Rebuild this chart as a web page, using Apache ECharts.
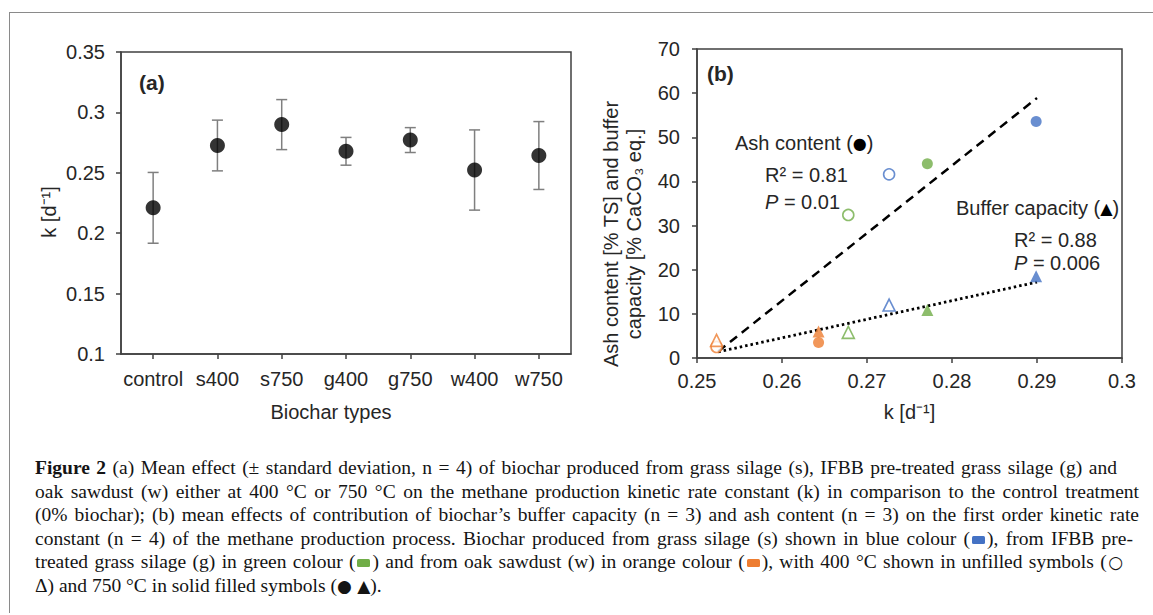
<!DOCTYPE html>
<html><head><meta charset="utf-8">
<script src="https://cdn.jsdelivr.net/npm/echarts@6/dist/echarts.min.js"></script>
<style>
html,body{margin:0;padding:0;background:#fff;overflow:hidden;width:1153px;height:615px;}
#chart{position:absolute;left:0;top:0;width:1153px;height:615px;}
#frame{position:absolute;left:9px;top:12px;width:1300px;height:600px;border-top:1.5px solid #8a8a8a;border-left:1.5px solid #8a8a8a;pointer-events:none;}
#caption{position:absolute;left:35px;top:456px;font-family:"Liberation Serif","Times New Roman",serif;font-size:19.5px;line-height:23.6px;color:#141414;}
.ln{text-align:justify;text-align-last:justify;height:23.6px;overflow:visible;}
.ln.last{text-align:left;text-align-last:left;}
.sq{display:inline-block;width:13px;height:8px;border-radius:1.5px;vertical-align:1px;margin:0 2px;}
.sym{font-family:"DejaVu Sans",sans-serif;font-size:17px;}
</style></head>
<body>
<div id="chart"></div>
<div id="frame"></div>
<div id="caption">
<div class="ln" style="width:1082px"><b>Figure 2</b> (a) Mean effect (± standard deviation, n = 4) of biochar produced from grass silage (s), IFBB pre-treated grass silage (g) and</div>
<div class="ln" style="width:1104px">oak sawdust (w) either at 400 °C or 750 °C on the methane production kinetic rate constant (k) in comparison to the control treatment</div>
<div class="ln" style="width:1104px">(0% biochar); (b) mean effects of contribution of biochar’s buffer capacity (n = 3) and ash content (n = 3) on the first order kinetic rate</div>
<div class="ln" style="width:1098px">constant (n = 4) of the methane production process. Biochar produced from grass silage (s) shown in blue colour (<span class="sq" style="background:#4472C4"></span>), from IFBB pre-</div>
<div class="ln" style="width:1088px">treated grass silage (g) in green colour (<span class="sq" style="background:#70AD47"></span>) and from oak sawdust (w) in orange colour (<span class="sq" style="background:#ED7D31"></span>), with 400 °C shown in unfilled symbols (<span class="sym">○</span></div>
<div class="ln last">Δ) and 750 °C in solid filled symbols (<span class="sym">● ▲</span>).</div>
</div>
<script>
// ---- Panel (a) data ----
const categories = ['control', 's400', 's750', 'g400', 'g750', 'w400', 'w750'];
const kMean = [0.221, 0.2726, 0.2899, 0.2678, 0.2771, 0.2523, 0.2643];
const kSd = [0.0293, 0.0210, 0.0207, 0.0115, 0.0103, 0.0332, 0.0281];
const yRangeA = [0.1, 0.35, 0.05];

// ---- Panel (b) data ----
const bTypes = ['s400', 's750', 'g400', 'g750', 'w400', 'w750'];
const ashContent = [41.6, 53.6, 32.4, 44.0, 2.5, 3.5];
const bufferCapacity = [12.0, 18.5, 5.8, 10.9, 4.0, 6.0];
const ashTrend = [[0.2525, 1.5], [0.2900, 58.9]];
const bufferTrend = [[0.2525, 1.4], [0.2900, 17.2]];
const xRangeB = [0.25, 0.3, 0.01];
const yRangeB = [0, 70, 10];

const sourceColor = { s: '#4472C4', g: '#70AD47', w: '#ED7D31' };
const FONT = '"Liberation Sans", Arial, sans-serif';
const TXT = '#262626';
const AX = '#404040';
const FS = 20;

const bK = bTypes.map(t => kMean[categories.indexOf(t)]);

function pointItem(i, val) {
  const t = bTypes[i];
  const c = sourceColor[t[0]];
  const filled = t.slice(1) === '750';
  return {
    value: [bK[i], val],
    itemStyle: filled
      ? { color: c, borderColor: c, borderWidth: 0 }
      : { color: '#ffffff', borderColor: c, borderWidth: 1.6 }
  };
}
const ashData = bTypes.map((t, i) => pointItem(i, ashContent[i]));
const bufData = bTypes.map((t, i) => pointItem(i, bufferCapacity[i]));

const fmt2 = v => String(Math.round(v * 100) / 100);

const axisCommon = {
  axisLine: { show: true, lineStyle: { color: AX, width: 1.5 } },
  axisTick: { show: true, inside: false, length: 5, lineStyle: { color: AX, width: 1.5 } },
  splitLine: { show: false },
  axisLabel: { color: TXT, fontFamily: FONT, fontSize: FS },
  nameTextStyle: { color: TXT, fontFamily: FONT, fontSize: FS }
};

const symRich = { sym: { fontFamily: '"DejaVu Sans", sans-serif', fontSize: 16, fill: '#000' } };
const italRich = { i: { fontStyle: 'italic', fontSize: FS, fontFamily: FONT, fill: TXT } };

const chart = echarts.init(document.getElementById('chart'), null, { renderer: 'svg' });
chart.setOption({
  animation: false,
  backgroundColor: 'transparent',
  grid: [
    { left: 121, right: 582, top: 52, bottom: 261, show: true, borderColor: AX, borderWidth: 1.5, backgroundColor: 'transparent' },
    { left: 697, right: 31, top: 49, bottom: 257, show: true, borderColor: AX, borderWidth: 1.5, backgroundColor: 'transparent' }
  ],
  xAxis: [
    Object.assign({}, axisCommon, {
      gridIndex: 0, type: 'category', data: categories, boundaryGap: true,
      axisTick: Object.assign({}, axisCommon.axisTick, { alignWithLabel: true }),
      axisLabel: Object.assign({}, axisCommon.axisLabel, { margin: 15, interval: 0 }),
      name: 'Biochar types', nameLocation: 'middle', nameGap: 48,
      nameTextStyle: Object.assign({}, axisCommon.nameTextStyle, { padding: [0, 30, 0, 0] })
    }),
    Object.assign({}, axisCommon, {
      gridIndex: 1, type: 'value', min: xRangeB[0], max: xRangeB[1], interval: xRangeB[2],
      axisLabel: Object.assign({}, axisCommon.axisLabel, { margin: 13, formatter: fmt2 }),
      name: 'k [d⁻¹]', nameLocation: 'middle', nameGap: 44
    })
  ],
  yAxis: [
    Object.assign({}, axisCommon, {
      gridIndex: 0, type: 'value', min: yRangeA[0], max: yRangeA[1], interval: yRangeA[2],
      axisLabel: Object.assign({}, axisCommon.axisLabel, { margin: 16, formatter: fmt2 }),
      name: 'k [d⁻¹]', nameLocation: 'middle', nameGap: 62, nameRotate: 90,
      nameTextStyle: Object.assign({}, axisCommon.nameTextStyle, { padding: [0, 18, 0, 0] })
    }),
    Object.assign({}, axisCommon, {
      gridIndex: 1, type: 'value', min: yRangeB[0], max: yRangeB[1], interval: yRangeB[2],
      axisLabel: Object.assign({}, axisCommon.axisLabel, { margin: 17 }),
      name: 'Ash content [% TS] and buffer\ncapacity [% CaCO₃ eq.]', nameLocation: 'middle', nameGap: 52, nameRotate: 90,
      nameTextStyle: Object.assign({}, axisCommon.nameTextStyle, { lineHeight: 23, padding: [0, 61, 0, 0] })
    })
  ],
  series: [
    {
      type: 'custom', xAxisIndex: 0, yAxisIndex: 0, z: 2,
      data: categories.map((c, i) => [i, kMean[i], kSd[i]]),
      encode: { x: 0, y: 1 },
      renderItem: (params, api) => {
        const x = api.value(0), m = api.value(1), s = api.value(2);
        const top = api.coord([x, m + s]);
        const bot = api.coord([x, m - s]);
        const hw = 5.5;
        const st = { stroke: '#7f7f7f', lineWidth: 1.5 };
        return {
          type: 'group', children: [
            { type: 'line', shape: { x1: top[0], y1: top[1], x2: bot[0], y2: bot[1] }, style: st },
            { type: 'line', shape: { x1: top[0] - hw, y1: top[1], x2: top[0] + hw, y2: top[1] }, style: st },
            { type: 'line', shape: { x1: bot[0] - hw, y1: bot[1], x2: bot[0] + hw, y2: bot[1] }, style: st }
          ]
        };
      }
    },
    {
      type: 'scatter', xAxisIndex: 0, yAxisIndex: 0, z: 3,
      symbol: 'circle', symbolSize: 15,
      itemStyle: { color: '#000000' },
      data: kMean
    },
    {
      type: 'line', xAxisIndex: 1, yAxisIndex: 1, z: 2, data: ashTrend, symbol: 'none',
      lineStyle: { color: '#000', width: 2.5, type: [9, 6] }
    },
    {
      type: 'line', xAxisIndex: 1, yAxisIndex: 1, z: 2, data: bufferTrend, symbol: 'none',
      lineStyle: { color: '#000', width: 2.8, type: [2.5, 3], cap: 'butt' }
    },
    {
      type: 'scatter', xAxisIndex: 1, yAxisIndex: 1, z: 3, symbol: 'circle', symbolSize: 11,
      data: ashData
    },
    {
      type: 'scatter', xAxisIndex: 1, yAxisIndex: 1, z: 3, symbol: 'triangle', symbolSize: 12,
      data: bufData
    }
  ],
  graphic: [
    { type: 'text', x: 139, y: 82, style: { text: '(a)', font: 'bold 21px ' + FONT, fill: TXT, verticalAlign: 'middle' } },
    { type: 'text', x: 707, y: 73, style: { text: '(b)', font: 'bold 21px ' + FONT, fill: TXT, verticalAlign: 'middle' } },
    { type: 'text', x: 735, y: 143, style: { text: 'Ash content ({sym|●})', font: FS + 'px ' + FONT, fill: TXT, verticalAlign: 'middle', rich: symRich } },
    { type: 'text', x: 765, y: 175, style: { text: 'R² = 0.81', font: FS + 'px ' + FONT, fill: TXT, verticalAlign: 'middle' } },
    { type: 'text', x: 765, y: 202, style: { text: '{i|P} = 0.01', font: FS + 'px ' + FONT, fill: TXT, verticalAlign: 'middle', rich: italRich } },
    { type: 'text', x: 956, y: 208, style: { text: 'Buffer capacity ({sym|▲})', font: FS + 'px ' + FONT, fill: TXT, verticalAlign: 'middle', rich: symRich } },
    { type: 'text', x: 1014, y: 240, style: { text: 'R² = 0.88', font: FS + 'px ' + FONT, fill: TXT, verticalAlign: 'middle' } },
    { type: 'text', x: 1014, y: 263, style: { text: '{i|P} = 0.006', font: FS + 'px ' + FONT, fill: TXT, verticalAlign: 'middle', rich: italRich } }
  ]
});
</script>
</body></html>
